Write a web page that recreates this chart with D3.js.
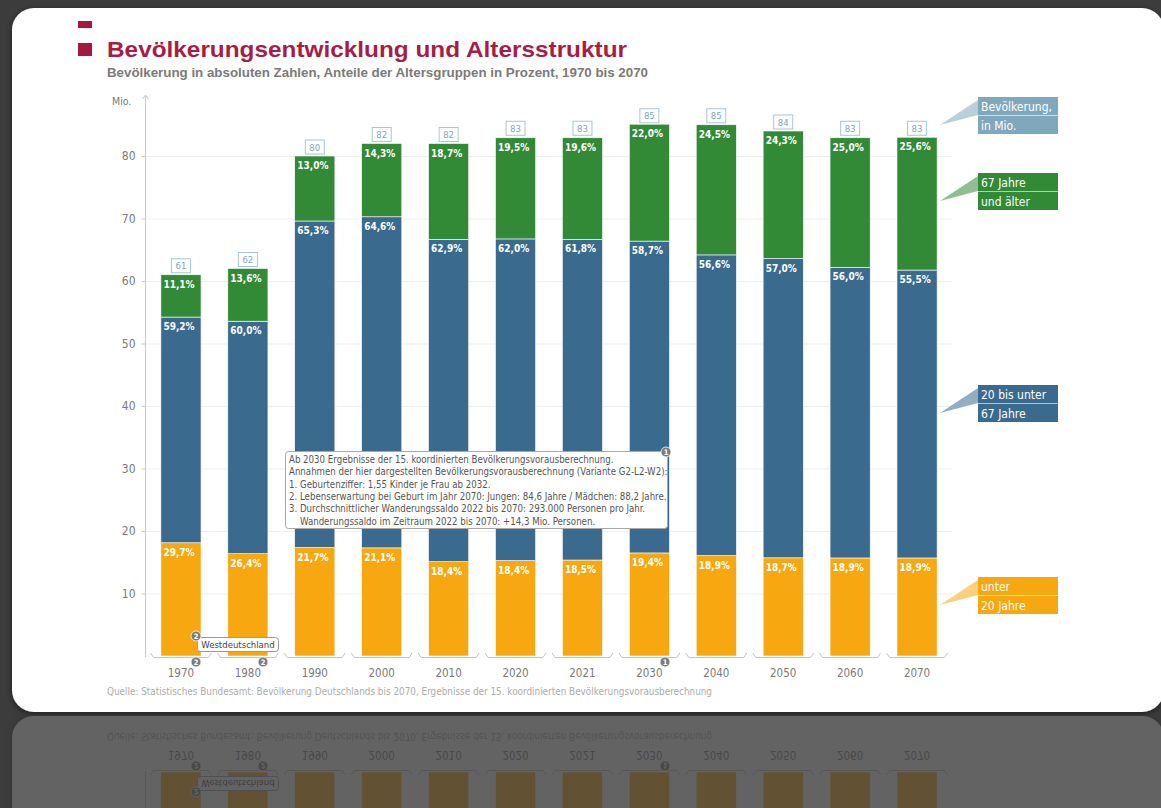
<!DOCTYPE html>
<html>
<head>
<meta charset="utf-8">
<script src="https://cdn.jsdelivr.net/npm/d3@7"></script>
<style>
  html, body { margin: 0; padding: 0; background: #3c3c3c; }
  svg { display: block; }
</style>
</head>
<body>
<div id="chart"></div>
<script>
'use strict';

// data
var years = ['1970', '1980', '1990', '2000', '2010', '2020', '2021', '2030', '2040', '2050', '2060', '2070'];
var totals = [61, 62, 80, 82, 82, 83, 83, 85, 85, 84, 83, 83];
var shareUnder20 = [29.7, 26.4, 21.7, 21.1, 18.4, 18.4, 18.5, 19.4, 18.9, 18.7, 18.9, 18.9];
var share20to67 = [59.2, 60.0, 65.3, 64.6, 62.9, 62.0, 61.8, 58.7, 56.6, 57.0, 56.0, 55.5];
var share67plus = [11.1, 13.6, 13.0, 14.3, 18.7, 19.5, 19.6, 22.0, 24.5, 24.3, 25.0, 25.6];
var yTicks = [10, 20, 30, 40, 50, 60, 70, 80];
var groups = ['u20', 'm', 'o67'];
var groupLabels = {
  pop: ['Bevölkerung,', 'in Mio.'],
  o67: ['67 Jahre', 'und älter'],
  m: ['20 bis unter', '67 Jahre'],
  u20: ['unter', '20 Jahre']
};
var noteLines = [
  'Ab 2030 Ergebnisse der 15. koordinierten Bevölkerungsvorausberechnung.',
  'Annahmen der hier dargestellten Bevölkerungsvorausberechnung (Variante G2-L2-W2):',
  '1. Geburtenziffer: 1,55 Kinder je Frau ab 2032.',
  '2. Lebenserwartung bei Geburt im Jahr 2070: Jungen: 84,6 Jahre / Mädchen: 88,2 Jahre.',
  '3. Durchschnittlicher Wanderungssaldo 2022 bis 2070: 293.000 Personen pro Jahr.',
  '    Wanderungssaldo im Zeitraum 2022 bis 2070: +14,3 Mio. Personen.'
];

var W = 1161, H = 808,
    colors = { u20: '#f7a70f', m: '#3b6a8f', o67: '#338a36', pop: '#80a8bc' },
    cond = '"DejaVu Sans Condensed", "Liberation Sans Narrow", sans-serif',
    narrow = '"Liberation Sans Narrow", "DejaVu Sans Condensed", sans-serif',
    arial = '"Liberation Sans", Arial, sans-serif';

var rows = years.map(function (yr, i) {
  return {
    year: yr,
    total: totals[i],
    u20: totals[i] * shareUnder20[i] / 100,
    m: totals[i] * share20to67[i] / 100,
    o67: totals[i] * share67plus[i] / 100,
    pct: { u20: shareUnder20[i], m: share20to67[i], o67: share67plus[i] }
  };
});

var x = d3.scaleBand().domain(years).range([147.5, 950.5]).paddingInner(0.4).paddingOuter(0.2),
    y = d3.scaleLinear().domain([0, 80]).range([656, 156]),
    stack = d3.stack().keys(groups)(rows);

var svg = d3.select('#chart').append('svg').attr('width', W).attr('height', H);
var defs = svg.append('defs');

var shadow = defs.append('filter').attr('id', 'shadow').attr('x', '-5%').attr('y', '-5%').attr('width', '110%').attr('height', '110%');
shadow.append('feDropShadow').attr('dx', 0).attr('dy', 2).attr('stdDeviation', 3).attr('flood-color', '#000').attr('flood-opacity', 0.5);

defs.append('clipPath').attr('id', 'reflClip').append('rect')
  .attr('x', 0).attr('y', 715).attr('width', W).attr('height', H - 715);

svg.append('rect').attr('width', W).attr('height', H).attr('fill', '#3c3c3c');

var card = svg.append('g').attr('id', 'card');

card.append('rect')
  .attr('x', 12).attr('y', 8).attr('width', 1152).attr('height', 704).attr('rx', 22)
  .attr('fill', '#fff').attr('filter', 'url(#shadow)');

// title block
card.append('rect').attr('x', 78).attr('y', 21).attr('width', 14).attr('height', 7).attr('fill', '#a6193f');
card.append('rect').attr('x', 78).attr('y', 43).attr('width', 14).attr('height', 13).attr('fill', '#a6193f');
card.append('text').attr('x', 107).attr('y', 57)
  .attr('font-family', arial).attr('font-weight', 'bold').attr('font-size', 22).attr('fill', '#a81d45')
  .attr('textLength', 520).attr('lengthAdjust', 'spacingAndGlyphs')
  .text('Bevölkerungsentwicklung und Altersstruktur');
card.append('text').attr('x', 107).attr('y', 77)
  .attr('font-family', arial).attr('font-weight', 'bold').attr('font-size', 12).attr('fill', '#7a7a7a')
  .attr('textLength', 541).attr('lengthAdjust', 'spacingAndGlyphs')
  .text('Bevölkerung in absoluten Zahlen, Anteile der Altersgruppen in Prozent, 1970 bis 2070');

// grid + y axis
card.append('g').selectAll('line').data(yTicks).enter().append('line')
  .attr('x1', 146).attr('x2', 952)
  .attr('y1', function (d) { return y(d) + 0.5; }).attr('y2', function (d) { return y(d) + 0.5; })
  .attr('stroke', '#efefef');

var yAxis = card.append('g').attr('transform', 'translate(145.5,0)')
  .call(d3.axisLeft(y).tickValues(yTicks).tickSize(4).tickPadding(6));
yAxis.select('.domain').remove();
yAxis.selectAll('line').attr('stroke', '#c8c8c8');
yAxis.selectAll('text').attr('font-family', cond).attr('font-size', 12).attr('fill', '#7a7a7a');

card.append('line').attr('x1', 145.5).attr('x2', 145.5).attr('y1', 95).attr('y2', 657).attr('stroke', '#c8c8c8');
card.append('path').attr('d', 'M142.5,99 L145.5,95 L148.5,99').attr('fill', 'none').attr('stroke', '#c8c8c8');
card.append('text').attr('x', 112).attr('y', 105).attr('font-family', cond).attr('font-size', 10.5).attr('fill', '#7a7a7a').text('Mio.');

// bars
var layer = card.append('g').selectAll('g').data(stack).enter().append('g')
  .attr('fill', function (d) { return colors[d.key]; });
layer.selectAll('rect').data(function (d) { return d; }).enter().append('rect')
  .attr('x', function (d) { return x(d.data.year); })
  .attr('width', x.bandwidth())
  .attr('y', function (d) { return y(d[1]); })
  .attr('height', function (d) { return y(d[0]) - y(d[1]); })
  .attr('stroke', '#fff').attr('stroke-width', 0.6);

// percent labels
stack.forEach(function (s) {
  card.append('g').selectAll('text').data(s).enter().append('text')
    .attr('x', function (d) { return x(d.data.year) + 2.5; })
    .attr('y', function (d) { return y(d[1]) + 13; })
    .attr('font-family', cond).attr('font-weight', 'bold').attr('font-size', 10).attr('fill', '#fff')
    .text(function (d) { return d.data.pct[s.key].toFixed(1).replace('.', ',') + '%'; });
});

// total labels
var tot = card.append('g').selectAll('g').data(rows).enter().append('g')
  .attr('transform', function (d) { return 'translate(' + (x(d.year) + x.bandwidth() / 2) + ',' + y(d.total) + ')'; });
tot.append('rect').attr('x', -9.5).attr('y', -16).attr('width', 19).attr('height', 14)
  .attr('fill', '#fff').attr('stroke', '#a8c6d4').attr('stroke-width', 1);
tot.append('text').attr('y', -5.5).attr('text-anchor', 'middle')
  .attr('font-family', cond).attr('font-size', 9.5).attr('fill', '#7fa5b9')
  .text(function (d) { return d.total; });

// x axis brackets and labels
var xg = card.append('g');
xg.selectAll('path').data(years).enter().append('path')
  .attr('d', function (d) {
    var c = x(d) + x.bandwidth() / 2, h = x.step() / 2 - 3;
    return 'M' + (c - h) + ',653 L' + (c - h + 3) + ',657.5 H' + (c + h - 3) + ' L' + (c + h) + ',653';
  })
  .attr('fill', 'none').attr('stroke', '#c4c4c4');
xg.selectAll('text').data(years).enter().append('text')
  .attr('x', function (d) { return x(d) + x.bandwidth() / 2; })
  .attr('y', 677).attr('text-anchor', 'middle')
  .attr('font-family', cond).attr('font-size', 11.5).attr('fill', '#7a7a7a')
  .text(function (d) { return d; });

// legend boxes with pointers
var legendTops = { pop: 97, o67: 173, m: 385, u20: 577 };
Object.keys(legendTops).forEach(function (k) {
  var t = legendTops[k], g = card.append('g');
  g.append('path')
    .attr('d', 'M978,' + (t + 3) + ' L940,' + (t + 28) + ' L978,' + (t + 18) + 'Z')
    .attr('fill', colors[k]).attr('opacity', 0.55);
  g.append('rect').attr('x', 978).attr('y', t).attr('width', 80).attr('height', 37).attr('fill', colors[k]);
  g.append('line').attr('x1', 978).attr('x2', 1058).attr('y1', t + 18.5).attr('y2', t + 18.5)
    .attr('stroke', '#fff').attr('stroke-opacity', 0.6);
  groupLabels[k].forEach(function (s, i) {
    g.append('text').attr('x', 981).attr('y', t + 14 + i * 19)
      .attr('font-family', cond).attr('font-size', 12).attr('fill', '#fff').text(s);
  });
});

// note box
var note = card.append('g');
note.append('rect').attr('x', 285.5).attr('y', 451.5).attr('width', 382).attr('height', 77).attr('rx', 3)
  .attr('fill', '#fff').attr('stroke', '#a8a8a8');
note.selectAll('text').data(noteLines).enter().append('text')
  .attr('x', 289).attr('y', function (d, i) { return 463 + i * 12.3; })
  .attr('font-family', narrow).attr('font-size', 9.6).attr('fill', '#555')
  .attr('xml:space', 'preserve')
  .text(function (d) { return d; });

// Westdeutschland box
card.append('rect').attr('x', 197.5).attr('y', 637.5).attr('width', 81).attr('height', 14).attr('rx', 3)
  .attr('fill', '#fff').attr('stroke', '#9a9a9a');
card.append('text').attr('x', 238).attr('y', 648).attr('text-anchor', 'middle')
  .attr('font-family', narrow).attr('font-size', 9.5).attr('fill', '#444').text('Westdeutschland');

// footnote markers
var markers = [
  { cx: 196, cy: 636, t: '2' }, { cx: 196, cy: 662, t: '2' },
  { cx: 263, cy: 662, t: '2' }, { cx: 665, cy: 662, t: '1' }, { cx: 666, cy: 452, t: '1' }
];
var mk = card.append('g').selectAll('g').data(markers).enter().append('g')
  .attr('transform', function (d) { return 'translate(' + d.cx + ',' + d.cy + ')'; });
mk.append('circle').attr('r', 5).attr('fill', '#7b7b7b').attr('stroke', '#fff').attr('stroke-width', 0.8);
mk.append('text').attr('y', 3).attr('text-anchor', 'middle')
  .attr('font-family', cond).attr('font-weight', 'bold').attr('font-size', 7.5).attr('fill', '#fff')
  .text(function (d) { return d.t; });

// source
card.append('text').attr('x', 107).attr('y', 695)
  .attr('font-family', narrow).attr('font-size', 10.5).attr('fill', '#ababab')
  .attr('textLength', 605).attr('lengthAdjust', 'spacingAndGlyphs')
  .text('Quelle: Statistisches Bundesamt: Bevölkerung Deutschlands bis 2070, Ergebnisse der 15. koordinierten Bevölkerungsvorausberechnung');

// mirrored reflection under the card
var refl = svg.append('g').attr('clip-path', 'url(#reflClip)');
refl.append('use').attr('href', '#card').attr('transform', 'translate(0,' + (2 * 714) + ') scale(1,-1)');
refl.append('rect').attr('x', 0).attr('y', 715).attr('width', W).attr('height', H - 715)
  .attr('fill', '#3c3c3c').attr('opacity', 0.8);
</script>
</body>
</html>
